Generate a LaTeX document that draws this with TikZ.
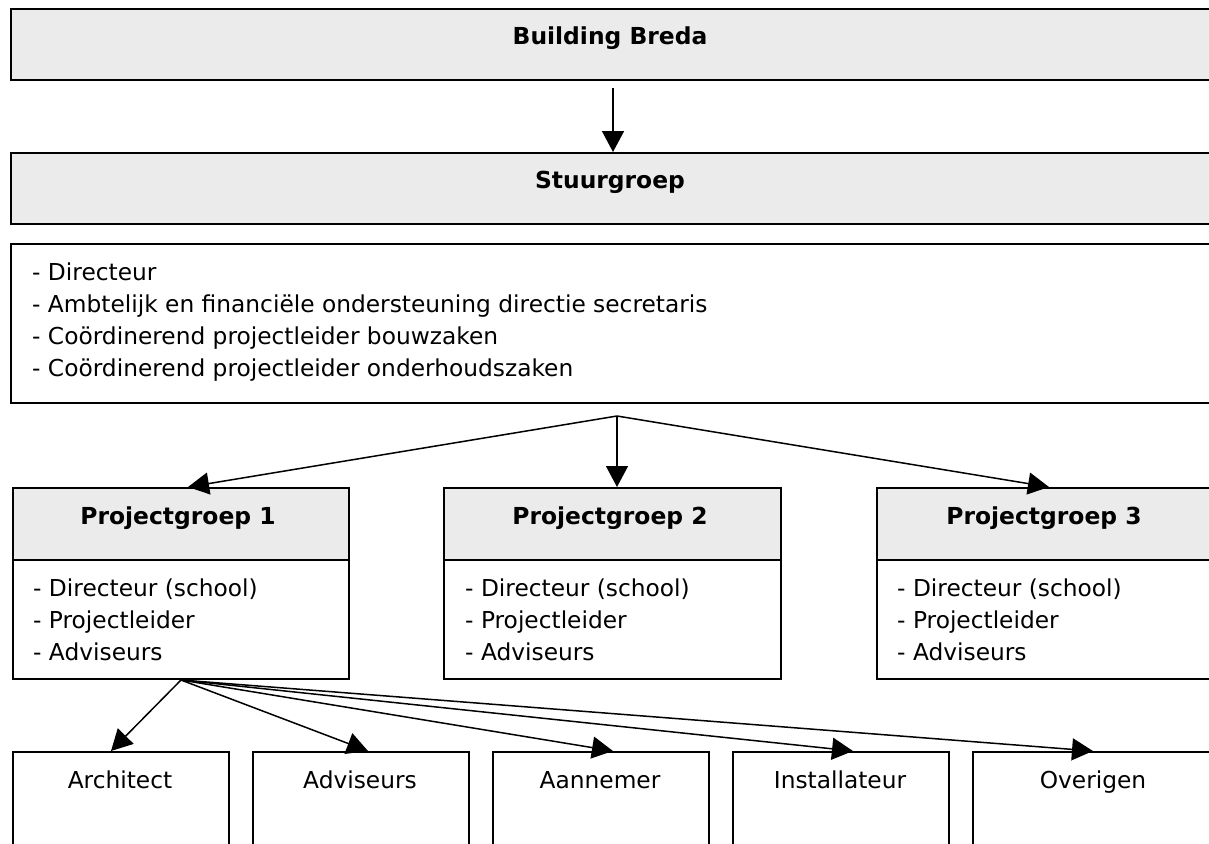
\documentclass[tikz,border=0pt]{standalone}
\usepackage{fontspec}
\setmainfont{DejaVu Sans}
\usetikzlibrary{arrows.meta}
\definecolor{boxgray}{HTML}{EBEBEB}
\begin{document}
\begin{tikzpicture}[x=1pt,y=-1pt,
  gbox/.style={draw=black, line width=2pt, fill=boxgray, inner sep=0pt, anchor=north west},
  wbox/.style={draw=black, line width=2pt, fill=white, inner sep=0pt, anchor=north west},
  htext/.style={font=\fontsize{23.4}{28}\selectfont\bfseries, inner sep=0pt, anchor=base},
  btext/.style={font=\fontsize{23.3}{31.7}\selectfont, inner sep=0pt, align=left, anchor=base west},
  ltext/.style={font=\fontsize{23.3}{28}\selectfont, inner sep=0pt, anchor=base},
  arr/.style={line width=1.5pt, -{Triangle[length=21pt,width=22pt]}}
]
\useasboundingbox (0,0) rectangle (1209,843);
\clip (0,0) rectangle (1209,843);
% top levels
\node[gbox, minimum width=1204pt, minimum height=71pt] (top) at (10,8) {};
\node[htext] (topT) at (610,45) {Building Breda};
\node[gbox, minimum width=1204pt, minimum height=71pt] (stu) at (10,152) {};
\node[htext] (stuT) at (610,188) {Stuurgroep};
\node[wbox, minimum width=1204pt, minimum height=159pt] (list) at (10,243) {};
% base anchor of a multi-line node = baseline of its last line
\node[btext] (listT) at (32,376) {- Directeur\\- Ambtelijk en financiële ondersteuning directie secretaris\\- Coördinerend projectleider bouwzaken\\- Coördinerend projectleider onderhoudszaken};
% project groups
\node[gbox, minimum width=336pt, minimum height=72pt] (pg1h) at (12,487) {};
\node[wbox, minimum width=336pt, minimum height=119pt] (pg1b) at (12,559) {};
\node[gbox, minimum width=337pt, minimum height=72pt] (pg2h) at (443,487) {};
\node[wbox, minimum width=337pt, minimum height=119pt] (pg2b) at (443,559) {};
\node[gbox, minimum width=337pt, minimum height=72pt] (pg3h) at (876,487) {};
\node[wbox, minimum width=337pt, minimum height=119pt] (pg3b) at (876,559) {};
\node[htext] (pg1T) at (178,524) {Projectgroep 1};
\node[htext] (pg2T) at (610,524) {Projectgroep 2};
\node[htext] (pg3T) at (1044,524) {Projectgroep 3};
\node[btext] (pg1L) at (33,660) {- Directeur (school)\\- Projectleider\\- Adviseurs};
\node[btext] (pg2L) at (465,660) {- Directeur (school)\\- Projectleider\\- Adviseurs};
\node[btext] (pg3L) at (897,660) {- Directeur (school)\\- Projectleider\\- Adviseurs};
% bottom boxes
\node[wbox, minimum width=216pt, minimum height=120pt] (arch) at (12,751) {};
\node[wbox, minimum width=216pt, minimum height=120pt] (advi) at (252,751) {};
\node[wbox, minimum width=216pt, minimum height=120pt] (aann) at (492,751) {};
\node[wbox, minimum width=216pt, minimum height=120pt] (inst) at (732,751) {};
\node[wbox, minimum width=242pt, minimum height=120pt] (over) at (972,751) {};
\node[ltext] (archT) at (120,788) {Architect};
\node[ltext] (adviT) at (360,788) {Adviseurs};
\node[ltext] (aannT) at (600,788) {Aannemer};
\node[ltext] (instT) at (840,788) {Installateur};
\node[ltext] (overT) at (1093,788) {Overigen};
% connectors
\draw[arr] ([yshift=-7pt]top.south) -- (stu.north);
\coordinate (src) at ([xshift=4pt,yshift=-12pt]list.south);
\draw[arr] (src) -- ([xshift=7pt]pg1h.north);
\draw[arr] (src) -- ([xshift=4.5pt]pg2h.north);
\draw[arr] (src) -- ([xshift=3.5pt]pg3h.north);
\draw[arr] (pg1b.south) -- ([xshift=-10pt]arch.north);
\draw[arr] (pg1b.south) -- ([xshift=7pt]advi.north);
\draw[arr] (pg1b.south) -- ([xshift=12pt]aann.north);
\draw[arr] (pg1b.south) -- ([xshift=12pt]inst.north);
\draw[arr] (pg1b.south) -- ([xshift=-1pt]over.north);
\end{tikzpicture}
\end{document}
